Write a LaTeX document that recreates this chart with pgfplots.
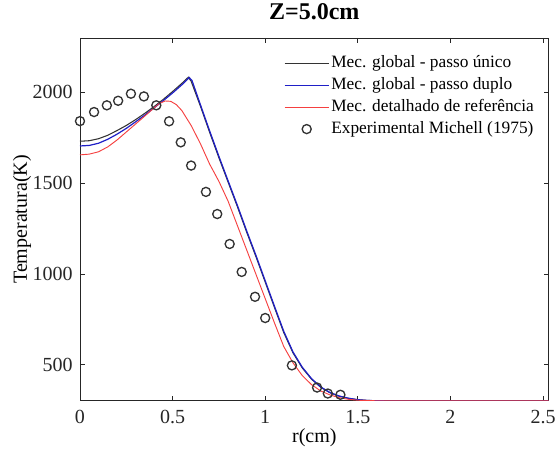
\documentclass[border=0pt]{standalone}
\usepackage{pgfplots}
\pgfplotsset{compat=1.18}
\usepackage{fontspec}
\setmainfont{Liberation Serif}
\definecolor{cblack}{rgb}{0.2,0.2,0.2}
\definecolor{cblue}{rgb}{0.12,0.12,0.78}
\definecolor{cred}{rgb}{0.96,0.25,0.25}
\definecolor{caxis}{rgb}{0.15,0.15,0.15}
\begin{document}
\begin{tikzpicture}
\begin{axis}[
  scale only axis,
  width=351.5pt, height=272.25pt,
  xmin=0, xmax=2.53, ymin=300, ymax=2300,
  xtick={0,0.5,1,1.5,2,2.5},
  xticklabels={0,0.5,1,1.5,2,2.5},
  ytick={500,1000,1500,2000},
  yticklabels={500,1000,1500,2000},
  tick align=inside,
  major tick length=3.5pt,
  axis line style={caxis, line width=0.7pt},
  tick style={caxis, line width=0.6pt},
  /pgf/number format/assume math mode=true,
  /pgf/number format/set thousands separator={},
  tick label style={font=\fontsize{15}{17}\selectfont, text=caxis},
  xticklabel style={anchor=base, yshift=-17.25pt},
  yticklabel style={anchor=east, xshift=-2pt},
  title={Z=5.0cm},
  title style={font=\fontsize{18}{20}\selectfont\bfseries, at={(axis description cs:0.5,1)}, anchor=base, yshift=7.5pt},
  xlabel={r(cm)},
  xlabel style={font=\fontsize{15}{17}\selectfont, at={(axis description cs:0.5,0)}, anchor=base, yshift=-31.5pt},
  ylabel={Temperatura(K)},
  every axis y label/.style={font=\fontsize{15}{17}\selectfont, at={(axis description cs:0,0.5)}, xshift=-39.75pt, rotate=90, anchor=base},
  legend style={draw=none, fill=none, at={(axis description cs:0.435,0.9606)}, anchor=north west, inner sep=0pt, column sep=0pt, row sep=0pt,
    font=\fontsize{13}{15}\selectfont,
    nodes={inner xsep=1.5pt, inner ysep=1.9pt, text height=9.3pt, text depth=3.3pt}},
  legend cell align=left,
  legend image code/.code={\draw[mark repeat=2,mark phase=2,#1] plot coordinates {(0pt,0pt) (16.5pt,0pt) (33pt,0pt)};},
]
\addplot[cblack, line width=0.8pt] table {
0 1731
0.05 1734
0.1 1745
0.15 1764
0.2 1790
0.25 1818
0.3 1850
0.35 1885
0.4 1922
0.45 1962
0.5 2005
0.55 2050
0.585 2084
0.6 2062
0.65 1925
0.7 1780
0.75 1640
0.8 1505
0.85 1370
0.9 1230
0.95 1095
1.0 955
1.05 815
1.1 677
1.15 565
1.2 482
1.25 420
1.3 375
1.35 345
1.4 326
1.45 314
1.5 307
1.55 303
1.6 301
1.7 300
2.53 300
};
\addlegendentry{Mec. global - passo único}
\addplot[cblue, line width=0.9pt] table {
0 1705
0.05 1708
0.1 1720
0.15 1742
0.2 1770
0.25 1802
0.3 1838
0.35 1875
0.4 1915
0.45 1955
0.5 1997
0.55 2042
0.59 2082
0.605 2065
0.65 1933
0.7 1788
0.75 1648
0.8 1512
0.85 1377
0.9 1237
0.95 1102
1.0 962
1.05 822
1.1 684
1.15 570
1.2 486
1.25 423
1.3 377
1.35 346
1.4 327
1.45 315
1.5 307
1.55 303
1.6 301
1.7 300
2.53 300
};
\addlegendentry{Mec. global - passo duplo}
\addplot[cred, line width=0.7pt] table {
0 1656
0.05 1660
0.1 1673
0.15 1700
0.2 1738
0.25 1782
0.3 1826
0.35 1870
0.4 1915
0.43 1940
0.46 1953
0.49 1951
0.52 1933
0.55 1900
0.6 1818
0.65 1718
0.7 1605
0.75 1510
0.8 1400
0.85 1266
0.9 1132
0.95 998
1.0 864
1.05 730
1.1 600
1.15 510
1.2 440
1.25 390
1.3 355
1.35 333
1.4 318
1.45 309
1.5 304
1.6 301
1.7 300
2.53 300
};
\addlegendentry{Mec. detalhado de referência}
\addplot[only marks, mark=o, mark size=3.4pt, mark options={cblack, line width=1pt}] table {
0 1842
0.076 1892
0.145 1929
0.206 1954
0.275 1993
0.345 1978
0.412 1929
0.481 1841
0.544 1725
0.600 1597
0.680 1452
0.741 1330
0.808 1165
0.873 1011
0.945 874
1.0 757
1.144 496
1.280 374
1.338 341
1.406 334
};
\addlegendentry{Experimental Michell (1975)}
\end{axis}
\pgfresetboundingbox
\path ([shift={(-60pt,-45pt)}]current axis.south west) rectangle ([shift={(4.8pt,28.5pt)}]current axis.north east);
\end{tikzpicture}
\end{document}
